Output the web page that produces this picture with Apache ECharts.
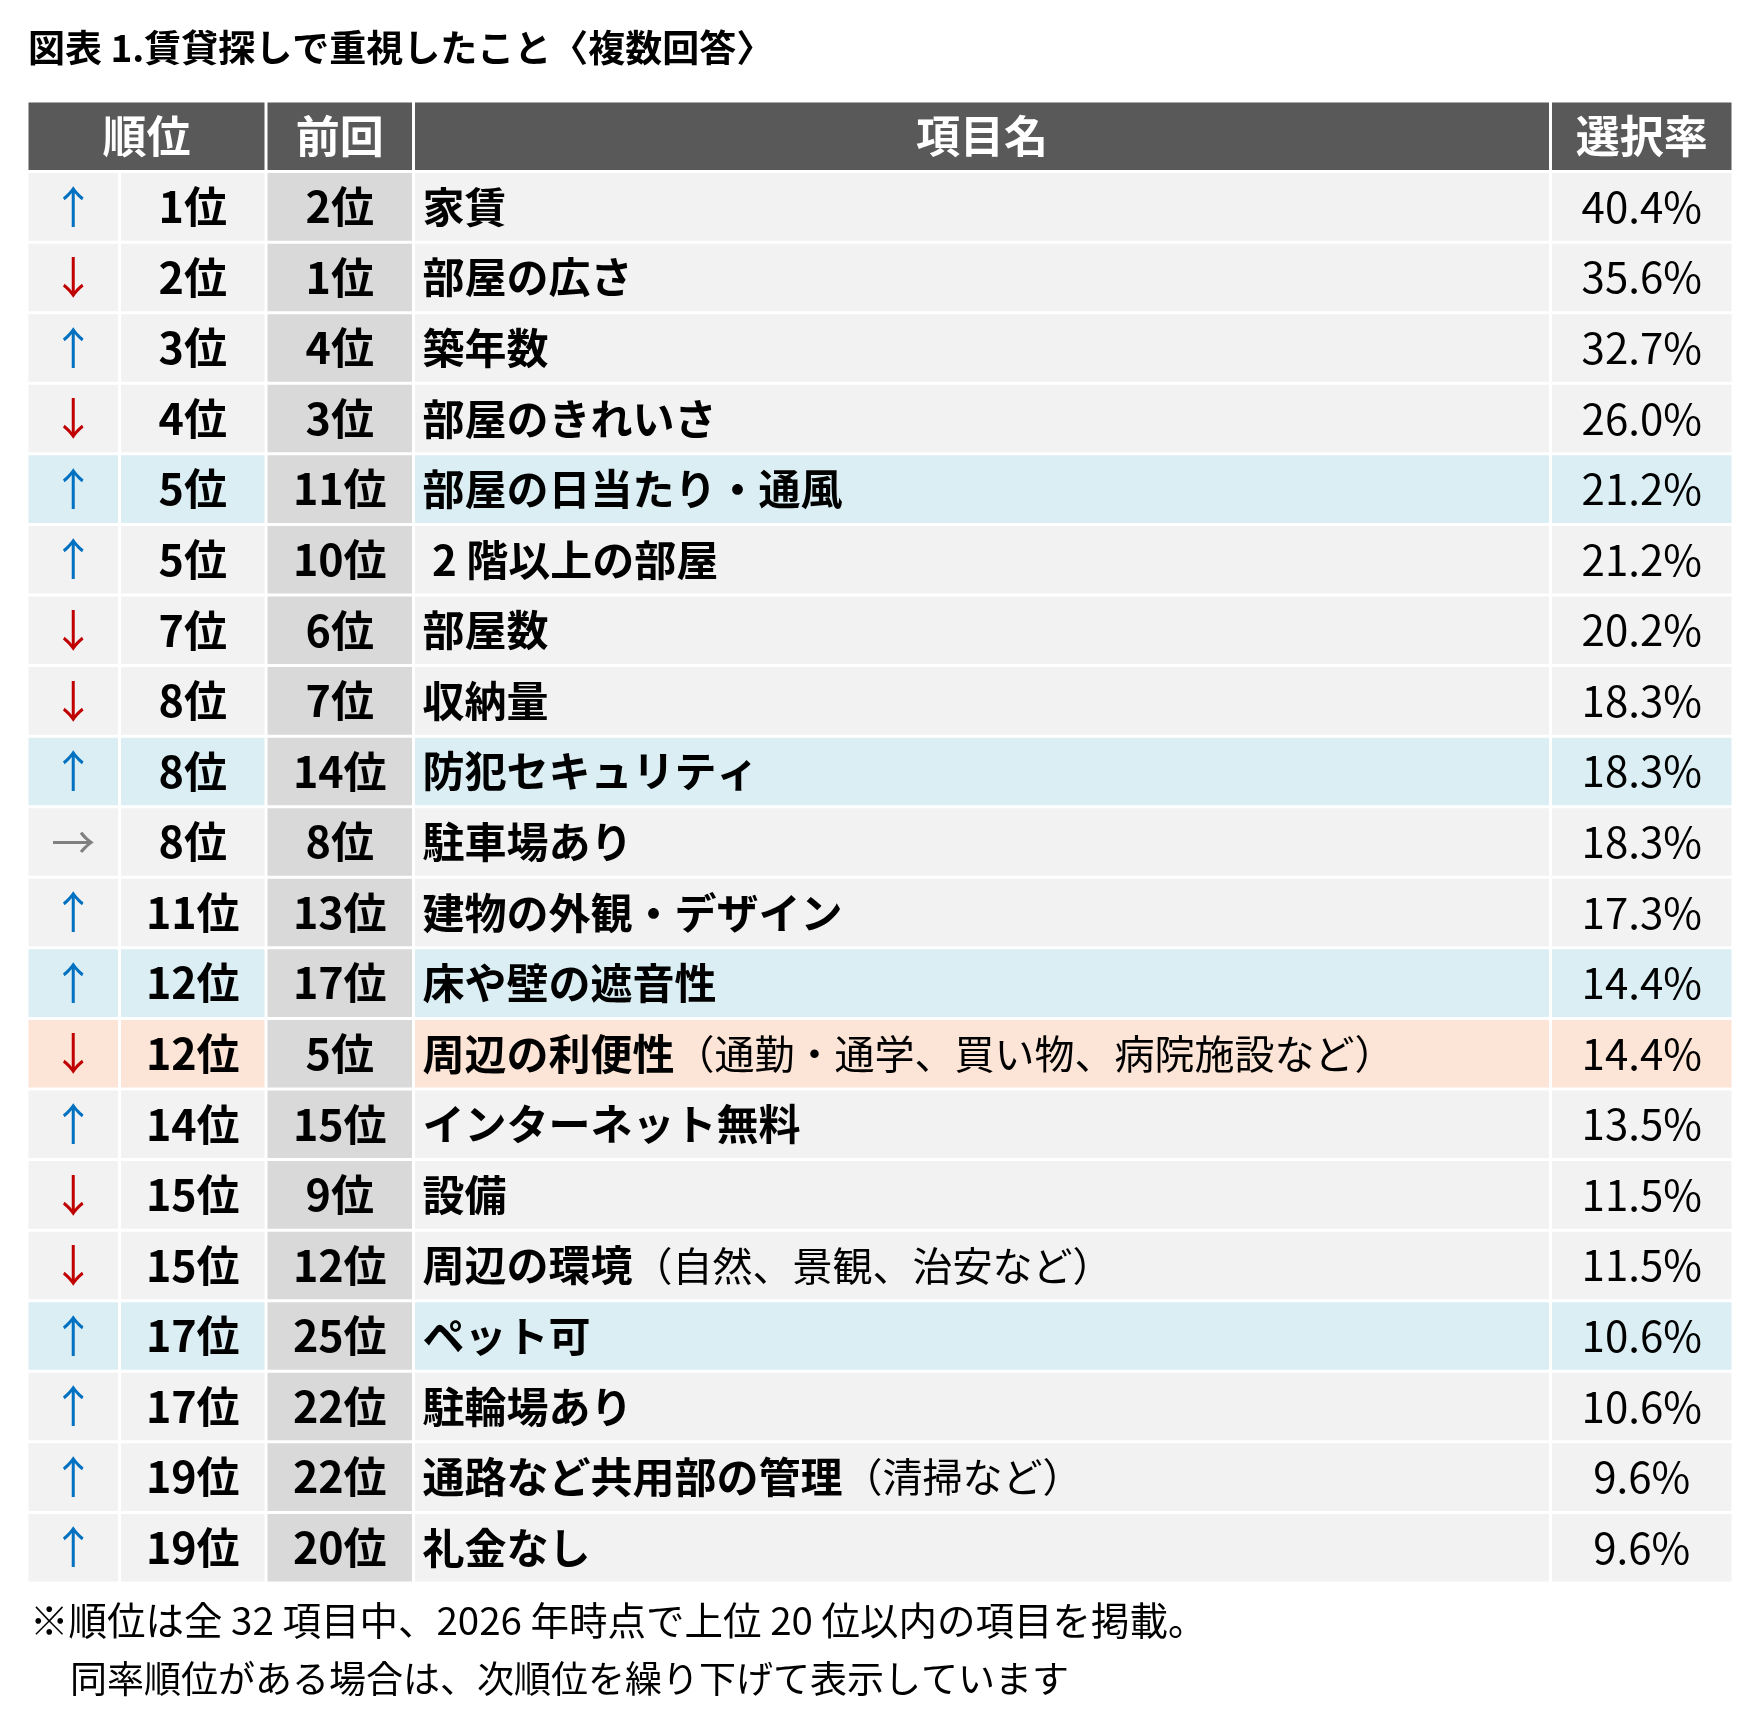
<!DOCTYPE html>
<html lang="ja">
<head>
<meta charset="utf-8">
<title>賃貸探しで重視したこと</title>
<script src="https://cdn.jsdelivr.net/npm/echarts@6.0.0/dist/echarts.min.js"></script>
<style>
  html, body { margin: 0; padding: 0; background: #fff; }
  #chart { width: 1737px; height: 1710px; }
</style>
</head>
<body>
<div id="chart"></div>
<script>
  // 表のデータ
  const titleText = '図表 1.賃貸探しで重視したこと〈複数回答〉';
  const headers = ['順位', '前回', '項目名', '選択率'];
  const trend = ['up', 'down', 'up', 'down', 'up', 'up', 'down', 'down', 'up', 'flat',
                 'up', 'up', 'down', 'up', 'down', 'down', 'up', 'up', 'up', 'up'];
  const ranks = [1, 2, 3, 4, 5, 5, 7, 8, 8, 8, 11, 12, 12, 14, 15, 15, 17, 17, 19, 19];
  const prevRanks = [2, 1, 4, 3, 11, 10, 6, 7, 14, 8, 13, 17, 5, 15, 9, 12, 25, 22, 22, 20];
  const items = ['家賃', '部屋の広さ', '築年数', '部屋のきれいさ', '部屋の日当たり・通風',
                 ' 2 階以上の部屋', '部屋数', '収納量', '防犯セキュリティ', '駐車場あり',
                 '建物の外観・デザイン', '床や壁の遮音性', '周辺の利便性', 'インターネット無料', '設備',
                 '周辺の環境', 'ペット可', '駐輪場あり', '通路など共用部の管理', '礼金なし'];
  const notes = ['', '', '', '', '', '', '', '', '', '',
                 '', '', '（通勤・通学、買い物、病院施設など）', '', '',
                 '（自然、景観、治安など）', '', '', '（清掃など）', ''];
  const rates = [40.4, 35.6, 32.7, 26.0, 21.2, 21.2, 20.2, 18.3, 18.3, 18.3,
                 17.3, 14.4, 14.4, 13.5, 11.5, 11.5, 10.6, 10.6, 9.6, 9.6];
  const marks = ['', '', '', '', 'blue', '', '', '', 'blue', '',
                 '', 'blue', 'orange', '', '', '', 'blue', '', '', ''];
  const footnotes = ['※順位は全 32 項目中、2026 年時点で上位 20 位以内の項目を掲載。',
                     '同率順位がある場合は、次順位を繰り下げて表示しています'];

  // レイアウト（列幅など）
  const FONT = '"Noto Sans CJK JP", "Noto Sans", sans-serif';
  const colW = [92.5, 146.5, 147.5, 1137, 182.5];
  const colEdge = [0];
  colW.forEach((w) => colEdge.push(colEdge[colEdge.length - 1] + w));
  const GAP = 1.5;

  const arrowChar = { up: '↑', down: '↓', flat: '→' };
  const arrowColor = { up: '#0070C0', down: '#C00000', flat: '#808080' };
  const rowFill = { blue: '#DAEEF3', orange: '#FCE4D6', '': '#F2F2F2' };

  const rowNames = ['header'].concat(items);

  function renderItem(params, api) {
    const row = api.value(1);
    const center = api.coord([0, row]);
    const bandH = api.size([0, 1])[1];
    const y0 = center[1] - bandH / 2 + GAP;
    const h = bandH - GAP * 2;
    const cy = center[1];
    const ex = colEdge.map((e) => api.coord([e, row])[0]);
    const children = [];

    const cell = (c0, c1, fill) => {
      children.push({
        type: 'rect',
        shape: { x: ex[c0] + GAP, y: y0, width: ex[c1] - ex[c0] - GAP * 2, height: h },
        style: { fill: fill }
      });
    };
    const label = (x, text, opt) => {
      children.push({
        type: 'text',
        x: x,
        y: cy,
        style: Object.assign({
          text: text,
          align: 'center',
          verticalAlign: 'middle',
          fontFamily: FONT,
          fontSize: 43,
          fill: '#000'
        }, opt)
      });
    };

    if (row === 0) {
      // ヘッダー
      const spans = [[0, 2], [2, 3], [3, 4], [4, 5]];
      spans.forEach((s, k) => {
        cell(s[0], s[1], '#595959');
        label((ex[s[0]] + ex[s[1]]) / 2, headers[k], {
          fill: '#fff', fontWeight: 'bold', fontSize: 44
        });
      });
    } else {
      const i = row - 1;
      const bg = rowFill[marks[i]];
      cell(0, 1, bg);
      cell(1, 2, bg);
      cell(2, 3, '#D9D9D9');
      cell(3, 4, bg);
      cell(4, 5, bg);
      label((ex[0] + ex[1]) / 2, arrowChar[trend[i]], {
        fill: arrowColor[trend[i]], fontSize: 44
      });
      label((ex[1] + ex[2]) / 2, ranks[i] + '位', { fontWeight: 'bold' });
      label((ex[2] + ex[3]) / 2, prevRanks[i] + '位', { fontWeight: 'bold' });
      let rich = '{b|' + items[i] + '}';
      if (notes[i]) rich += '{n|' + notes[i] + '}';
      children.push({
        type: 'text',
        x: ex[3] + 9,
        y: cy,
        style: {
          text: rich,
          align: 'left',
          verticalAlign: 'middle',
          rich: {
            b: { fontFamily: FONT, fontSize: 42, fontWeight: 'bold', fill: '#000' },
            n: { fontFamily: FONT, fontSize: 40, fontWeight: 'normal', fill: '#000' }
          }
        }
      });
      label((ex[4] + ex[5]) / 2, rates[i].toFixed(1) + '%', { fontSize: 42 });
    }
    return { type: 'group', children: children };
  }

  const chart = echarts.init(document.getElementById('chart'), null, { renderer: 'canvas' });
  chart.setOption({
    backgroundColor: '#fff',
    animation: false,
    title: [
      {
        text: titleText,
        left: 28, top: 26, padding: 0,
        textStyle: { fontFamily: FONT, fontSize: 37, fontWeight: 'bold', color: '#000', lineHeight: 44 }
      },
      {
        text: footnotes[0],
        left: 30, top: 1599, padding: 0,
        textStyle: { fontFamily: FONT, fontSize: 38.5, fontWeight: 'normal', color: '#000', lineHeight: 42 }
      },
      {
        text: footnotes[1],
        left: 70, top: 1658, padding: 0,
        textStyle: { fontFamily: FONT, fontSize: 37, fontWeight: 'normal', color: '#000', lineHeight: 42 }
      }
    ],
    grid: { left: 27, right: 4, top: 101, bottom: 127, containLabel: false },
    xAxis: { type: 'value', min: 0, max: colEdge[colEdge.length - 1], show: false },
    yAxis: { type: 'category', data: rowNames, inverse: true, show: false },
    series: [
      {
        type: 'custom',
        renderItem: renderItem,
        silent: true,
        encode: { x: 0, y: 1 },
        data: rowNames.map((n, idx) => [0, idx])
      }
    ]
  });
</script>
</body>
</html>
